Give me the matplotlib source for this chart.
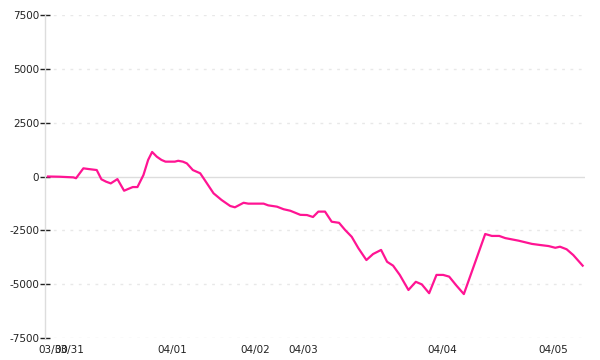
import matplotlib
matplotlib.use("Agg")
import matplotlib.pyplot as plt

# sample position (index units) and value
x_idx = [0.0, 1.7, 3.8, 4.2, 5.3, 6.0, 7.3, 8.0, 8.7, 9.4, 10.4, 11.4, 12.0, 12.7, 13.4,
         14.3, 15.0, 15.6, 16.3, 17.0, 17.6, 19.0, 19.5, 20.2, 20.8, 21.7, 22.8, 23.3,
         24.8, 26.0, 27.3, 28.0, 28.5, 29.3, 30.0, 32.3, 33.0, 34.3, 35.3, 36.3, 37.8,
         38.8, 39.7, 40.5, 41.5, 42.5, 43.6, 44.5, 45.5, 46.5, 47.7, 48.7, 49.9, 50.8,
         51.7, 52.7, 54.0, 55.1, 56.0, 57.1, 58.2, 59.2, 60.1, 61.2, 62.3, 65.5, 66.5,
         67.6, 68.5, 70.5, 72.5, 73.7, 75.0, 76.0, 76.7, 77.7, 78.7, 80.1]
values = [0, -10, -40, -80, 380, 350, 300, -130, -240, -320, -120, -660, -580, -490, -490,
          70, 770, 1140, 920, 770, 690, 690, 730, 690, 610, 300, 150, -80,
          -780, -1090, -1370, -1430, -1350, -1220, -1260, -1260, -1340, -1400, -1520, -1590, -1780,
          -1790, -1880, -1630, -1630, -2100, -2150, -2480, -2800, -3330, -3880, -3600, -3410, -3960,
          -4140, -4570, -5270, -4890, -5010, -5420, -4570, -4570, -4650, -5070, -5460, -2670, -2760,
          -2760, -2860, -2980, -3130, -3180, -3230, -3310, -3260, -3380, -3650, -4140]

date_ticks = [0.75, 3.22, 18.58, 31.06, 38.31, 59.03, 75.66]
date_labels = ["03/30", "03/31", "04/01", "04/02", "04/03", "04/04", "04/05"]
y_ticks = [-7500, -5000, -2500, 0, 2500, 5000, 7500]

fig = plt.figure(figsize=(6, 3.6), dpi=100)
ax = fig.add_axes([0.075, 0.0611, 0.9, 0.8972])

for yv in y_ticks:
    if yv == 0:
        ax.axhline(yv, color="#dddddd", lw=1.0, zorder=1)
    else:
        ax.axhline(yv, color="#e8e8e8", lw=1.0, ls=(0, (2, 4)), zorder=1)

ax.plot(x_idx, values, color="#ff1493", lw=1.6, zorder=3)

ax.set_xlim(-0.45, 80.45)
ax.set_ylim(-7500, 7500)
ax.set_yticks(y_ticks)
ax.set_yticklabels([str(v) for v in y_ticks])
ax.set_xticks(date_ticks)
ax.set_xticklabels(date_labels)

for s in ["top", "right", "bottom"]:
    ax.spines[s].set_visible(False)
ax.spines["left"].set_color("#dddddd")
ax.spines["left"].set_linewidth(1.0)

ax.tick_params(axis="y", direction="inout", length=6.5, width=1, color="#222222",
               labelsize=7.5, labelcolor="#222222", pad=1)
ax.tick_params(axis="x", length=0, labelsize=7.5, labelcolor="#222222", pad=5)

fig.savefig("out.png", dpi=100)
